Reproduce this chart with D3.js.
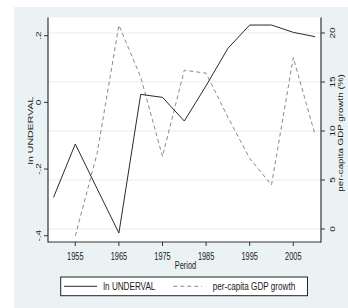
<!DOCTYPE html>
<html>
<head>
<meta charset="utf-8">
<script src="https://cdn.jsdelivr.net/npm/d3@7"></script>
<style>
  body { margin: 0; background: #fff; }
  text { font-family: "Liberation Sans", Arial, sans-serif; fill: #1a1a1a; }
</style>
</head>
<body>
<div id="chart"></div>
<script>
// datos
const periods = [1950, 1955, 1960, 1965, 1970, 1975, 1980, 1985, 1990, 1995, 2000, 2005, 2010]
const underval = [-0.285, -0.125, -0.259, -0.392, 0.024, 0.015, -0.056, 0.050, 0.162, 0.232, 0.232, 0.210, 0.197]
const gdpYears = [1955, 1960, 1965, 1970, 1975, 1980, 1985, 1990, 1995, 2000, 2005, 2010]
const gdpGrowth = [-0.7, 7.7, 20.8, 15.5, 7.4, 16.2, 15.9, 11.4, 7.2, 4.5, 17.5, 9.6]
const xTicks = [1955, 1965, 1975, 1985, 1995, 2005]
const leftTicks = [-0.4, -0.2, 0, 0.2]
const leftTickLabels = ["-.4", "-.2", "0", ".2"]
const rightTicks = [0, 5, 10, 15, 20]
const legendLabels = ["ln UNDERVAL", "per-capita GDP growth"]

const WIDTH = 348
const HEIGHT = 308
const plot = { left: 48, right: 321, top: 17.5, bottom: 242 }
const SX = 0.74 // texto angosto

const svg = d3.select("#chart").append("svg")
  .attr("width", WIDTH)
  .attr("height", HEIGHT)

// fondo
svg.append("rect").attr("x", 14).attr("y", 7).attr("width", WIDTH - 14).attr("height", HEIGHT - 7)
  .attr("fill", "#eaf2f3")
svg.append("rect").attr("x", plot.left).attr("y", plot.top)
  .attr("width", plot.right - plot.left).attr("height", plot.bottom - plot.top)
  .attr("fill", "#fff")

// escalas
const xScale = d3.scaleLinear().domain([1955, 2005]).range([75.3, 293.3])
const yLeft = d3.scaleLinear().domain([-0.4, 0.2]).range([235.7, 35.7])
const yRight = d3.scaleLinear().domain([0, 20]).range([229, 33])

// texto con compresion horizontal
const label = (x, y, s, size, rot, anchor) => {
  const tr = rot ? `translate(${x},${y}) rotate(${rot}) scale(1,${SX})` : `translate(${x},${y}) scale(${SX},1)`
  return svg.append("text")
    .attr("transform", tr)
    .attr("text-anchor", anchor || "middle")
    .attr("font-size", size)
    .text(s)
}

// grilla (eje derecho)
svg.append("g").selectAll("line")
  .data(rightTicks)
  .join("line")
  .attr("x1", plot.left).attr("x2", plot.right)
  .attr("y1", d => yRight(d)).attr("y2", d => yRight(d))
  .attr("stroke", "#e3eef0")
  .attr("stroke-width", 1)

// lineas
const lineU = d3.line().x((d, i) => xScale(periods[i])).y(d => yLeft(d))
const lineG = d3.line().x((d, i) => xScale(gdpYears[i])).y(d => yRight(d))

svg.append("path")
  .attr("d", lineG(gdpGrowth))
  .attr("fill", "none")
  .attr("stroke", "#8a8a8a")
  .attr("stroke-width", 1)
  .attr("stroke-dasharray", "4,3")

svg.append("path")
  .attr("d", lineU(underval))
  .attr("fill", "none")
  .attr("stroke", "#2a2a2a")
  .attr("stroke-width", 1)

// ejes
const axisColor = "#333"
svg.append("line").attr("x1", plot.left).attr("x2", plot.left).attr("y1", plot.top).attr("y2", plot.bottom + 0.5)
  .attr("stroke", axisColor).attr("stroke-width", 1.2)
svg.append("line").attr("x1", plot.right).attr("x2", plot.right).attr("y1", plot.top).attr("y2", plot.bottom + 0.5)
  .attr("stroke", axisColor).attr("stroke-width", 1.2)
svg.append("line").attr("x1", plot.left).attr("x2", plot.right).attr("y1", plot.bottom).attr("y2", plot.bottom)
  .attr("stroke", axisColor).attr("stroke-width", 1.2)

// eje x
xTicks.forEach(t => {
  svg.append("line").attr("x1", xScale(t)).attr("x2", xScale(t)).attr("y1", plot.bottom).attr("y2", plot.bottom + 4)
    .attr("stroke", axisColor).attr("stroke-width", 1)
  label(xScale(t), 260, t, 10)
})
label(185.5, 268.5, "Period", 10)

// eje izquierdo
leftTicks.forEach((t, i) => {
  svg.append("line").attr("x1", plot.left - 4).attr("x2", plot.left).attr("y1", yLeft(t)).attr("y2", yLeft(t))
    .attr("stroke", axisColor).attr("stroke-width", 1)
  label(40.5, yLeft(t), leftTickLabels[i], 10, -90)
})
label(32.5, 130.5, "ln UNDERVAL", 10.6, -90)

// eje derecho
rightTicks.forEach(t => {
  svg.append("line").attr("x1", plot.right).attr("x2", plot.right + 4).attr("y1", yRight(t)).attr("y2", yRight(t))
    .attr("stroke", axisColor).attr("stroke-width", 1)
  label(334.5, yRight(t), t, 10, -90)
})
label(342.5, 133, "per-capita GDP growth (%)", 9.8, -90)

// leyenda
svg.append("rect").attr("x", 60.7).attr("y", 277).attr("width", 307.5 - 60.7).attr("height", 18.7)
  .attr("fill", "#fff").attr("stroke", "#222").attr("stroke-width", 1)
svg.append("line").attr("x1", 64).attr("x2", 97).attr("y1", 286.3).attr("y2", 286.3)
  .attr("stroke", "#2a2a2a").attr("stroke-width", 1)
svg.append("line").attr("x1", 173.3).attr("x2", 202).attr("y1", 286.3).attr("y2", 286.3)
  .attr("stroke", "#8a8a8a").attr("stroke-width", 1).attr("stroke-dasharray", "4,3")
label(103.3, 290, legendLabels[0], 11, 0, "start")
label(212.7, 290, legendLabels[1], 11, 0, "start")
</script>
</body>
</html>
